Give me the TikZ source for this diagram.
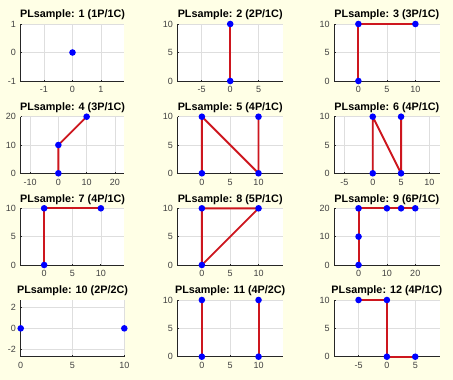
\documentclass[tikz,border=0pt]{standalone}
\usepackage{fontspec}
\setmainfont{Liberation Sans}
\definecolor{bgcol}{RGB}{255,255,230}
\definecolor{gridcol}{RGB}{222,222,222}
\definecolor{axcol}{RGB}{38,38,38}
\definecolor{labcol}{RGB}{64,64,64}
\definecolor{linecol}{RGB}{205,22,30}
\definecolor{dotcol}{RGB}{0,0,255}
\tikzset{
  gridline/.style={draw=gridcol, line width=0.5pt},
  axisline/.style={draw=axcol, line width=0.8pt},
  xlab/.style={anchor=north, inner sep=0pt, yshift=-5.5pt, text=labcol, font=\fontsize{9}{10}\selectfont},
  ylab/.style={anchor=east, inner sep=0pt, xshift=-4.5pt, text=labcol, font=\fontsize{9}{10}\selectfont},
  titlestyle/.style={anchor=base, inner sep=0pt, yshift=6.3pt, text=black, font=\fontsize{10.8}{12}\selectfont\bfseries},
  dataline/.style={draw=linecol, line width=1.9pt, line join=round},
  dot/.style={fill=dotcol}
}
% panel with y range given, x range centred on xc with equal aspect
\newcommand\setpanelY[7]{%
  \pgfmathsetmacro\pL{#1}\pgfmathsetmacro\pT{#2}\pgfmathsetmacro\pW{#3}\pgfmathsetmacro\pH{#4}%
  \pgfmathsetmacro\ya{#6}\pgfmathsetmacro\yb{#7}%
  \pgfmathsetmacro\sy{\pH/(\yb-\ya)}\pgfmathsetmacro\sx{\sy}%
  \pgfmathsetmacro\xa{#5-\pW/(2*\sx)}\pgfmathsetmacro\xb{#5+\pW/(2*\sx)}%
  \pgfmathsetmacro\ox{\pL-\xa*\sx}\pgfmathsetmacro\oy{\pT+\pH+\ya*\sy}%
}
% panel with x range given, y range centred on yc with equal aspect
\newcommand\setpanelX[7]{%
  \pgfmathsetmacro\pL{#1}\pgfmathsetmacro\pT{#2}\pgfmathsetmacro\pW{#3}\pgfmathsetmacro\pH{#4}%
  \pgfmathsetmacro\xa{#5}\pgfmathsetmacro\xb{#6}%
  \pgfmathsetmacro\sx{\pW/(\xb-\xa)}\pgfmathsetmacro\sy{\sx}%
  \pgfmathsetmacro\ya{#7-\pH/(2*\sy)}\pgfmathsetmacro\yb{#7+\pH/(2*\sy)}%
  \pgfmathsetmacro\ox{\pL-\xa*\sx}\pgfmathsetmacro\oy{\pT+\pH+\ya*\sy}%
}
\newcommand\drawpanel[4]{%
  \fill[white] (\xa,\ya) rectangle (\xb,\yb);
  \foreach \v in {#3} {
    \draw[gridline] (\v,\ya) -- (\v,\yb);
  }
  \foreach \v in {#4} {
    \draw[gridline] (\xa,\v) -- (\xb,\v);
  }
  \draw[axisline] (\xa,\yb) -- (\xa,\ya) -- (\xb,\ya);
  \foreach \v in {#3} {
    \draw[axisline] (\v,\ya) -- ++(0pt,1.5pt);
    \node[xlab] (#1x\v) at (\v,\ya) {\v};
  }
  \foreach \v in {#4} {
    \draw[axisline] (\xa,\v) -- ++(1.5pt,0pt);
    \node[ylab] (#1y\v) at (\xa,\v) {\v};
  }
  \node[titlestyle] (#1) at ({(\xa+\xb)/2},\yb) {#2};
}
\newcommand\pts[1]{\foreach \a/\b in {#1} {\fill[dot] (\a,\b) circle (3.3pt);}}
\newenvironment{panelscope}{\begin{scope}[shift={(\ox,\oy)}, x=\sx pt, y=\sy pt]}{\end{scope}}

\begin{document}
\begin{tikzpicture}[x=1pt, y=-1pt]
\useasboundingbox (0,0) rectangle (453,380);
\fill[bgcol] (0,0) rectangle (453,380);

% 1
\setpanelY{20.7}{24}{103.6}{57}{0}{-1}{1}
\begin{panelscope}
\drawpanel{pa}{PLsample: 1 (1P/1C)}{-1,0,1}{-1,0,1}
\pts{0/0}
\end{panelscope}
% 2
\setpanelY{177.7}{24}{105}{57}{0}{0}{10}
\begin{panelscope}
\drawpanel{pb}{PLsample: 2 (2P/1C)}{-5,0,5}{0,5,10}
\draw[dataline] (0,0) -- (0,10);
\pts{0/0,0/10}
\end{panelscope}
% 3
\setpanelY{334.3}{24}{105.2}{57}{5}{0}{10}
\begin{panelscope}
\drawpanel{pc}{PLsample: 3 (3P/1C)}{0,5,10}{0,5,10}
\draw[dataline] (0,0) -- (0,10) -- (10,10);
\pts{0/0,0/10,10/10}
\end{panelscope}
% 4
\setpanelY{20.7}{116.7}{103.6}{56.6}{5}{0}{20}
\begin{panelscope}
\drawpanel{pd}{PLsample: 4 (3P/1C)}{-10,0,10,20}{0,10,20}
\draw[dataline] (0,0) -- (0,10) -- (10,20);
\pts{0/0,0/10,10/20}
\end{panelscope}
% 5
\setpanelY{177.7}{116.7}{105}{56.6}{5}{0}{10}
\begin{panelscope}
\drawpanel{pe}{PLsample: 5 (4P/1C)}{0,5,10}{0,5,10}
\draw[dataline] (0,0) -- (0,10) -- (10,0) -- (10,10);
\pts{0/0,0/10,10/0,10/10}
\end{panelscope}
% 6
\setpanelY{334.3}{116.7}{105.2}{56.6}{2.5}{0}{10}
\begin{panelscope}
\drawpanel{pf}{PLsample: 6 (4P/1C)}{-5,0,5,10}{0,5,10}
\draw[dataline] (0,0) -- (0,10) -- (5,0) -- (5,10);
\pts{0/0,0/10,5/0,5/10}
\end{panelscope}
% 7
\setpanelY{20.7}{208.3}{103.6}{56.7}{5}{0}{10}
\begin{panelscope}
\drawpanel{pg}{PLsample: 7 (4P/1C)}{0,5,10}{0,5,10}
\draw[dataline] (0,0) -- (0,10) -- (10,10);
\pts{0/0,0/10,10/10}
\end{panelscope}
% 8
\setpanelY{177.7}{208.3}{105}{56.7}{5}{0}{10}
\begin{panelscope}
\drawpanel{ph}{PLsample: 8 (5P/1C)}{0,5,10}{0,5,10}
\draw[dataline] (0,0) -- (0,10) -- (10,10) -- cycle;
\pts{0/0,0/10,10/10}
\end{panelscope}
% 9
\setpanelY{334.3}{208.3}{105.2}{56.7}{10}{0}{20}
\begin{panelscope}
\drawpanel{pi}{PLsample: 9 (6P/1C)}{0,10,20}{0,10,20}
\draw[dataline] (0,0) -- (0,10) -- (0,20) -- (10,20) -- (15,20) -- (20,20);
\pts{0/0,0/10,0/20,10/20,15/20,20/20}
\end{panelscope}
% 10
\setpanelX{20.7}{300}{103.6}{56.7}{0}{10}{0}
\begin{panelscope}
\drawpanel{pj}{PLsample: 10 (2P/2C)}{0,5,10}{-2,0,2}
\pts{0/0,10/0}
\end{panelscope}
% 11
\setpanelY{177.7}{300}{105}{56.7}{5}{0}{10}
\begin{panelscope}
\drawpanel{pk}{PLsample: 11 (4P/2C)}{0,5,10}{0,5,10}
\draw[dataline] (0,0) -- (0,10);
\draw[dataline] (10,0) -- (10,10);
\pts{0/0,0/10,10/0,10/10}
\end{panelscope}
% 12
\setpanelY{334.3}{300}{105.2}{56.7}{0}{0}{10}
\begin{panelscope}
\drawpanel{pl}{PLsample: 12 (4P/1C)}{-5,0,5}{0,5,10}
\draw[dataline] (-5,10) -- (0,10) -- (0,0) -- (5,0);
\pts{-5/10,0/10,0/0,5/0}
\end{panelscope}
\end{tikzpicture}
\end{document}
